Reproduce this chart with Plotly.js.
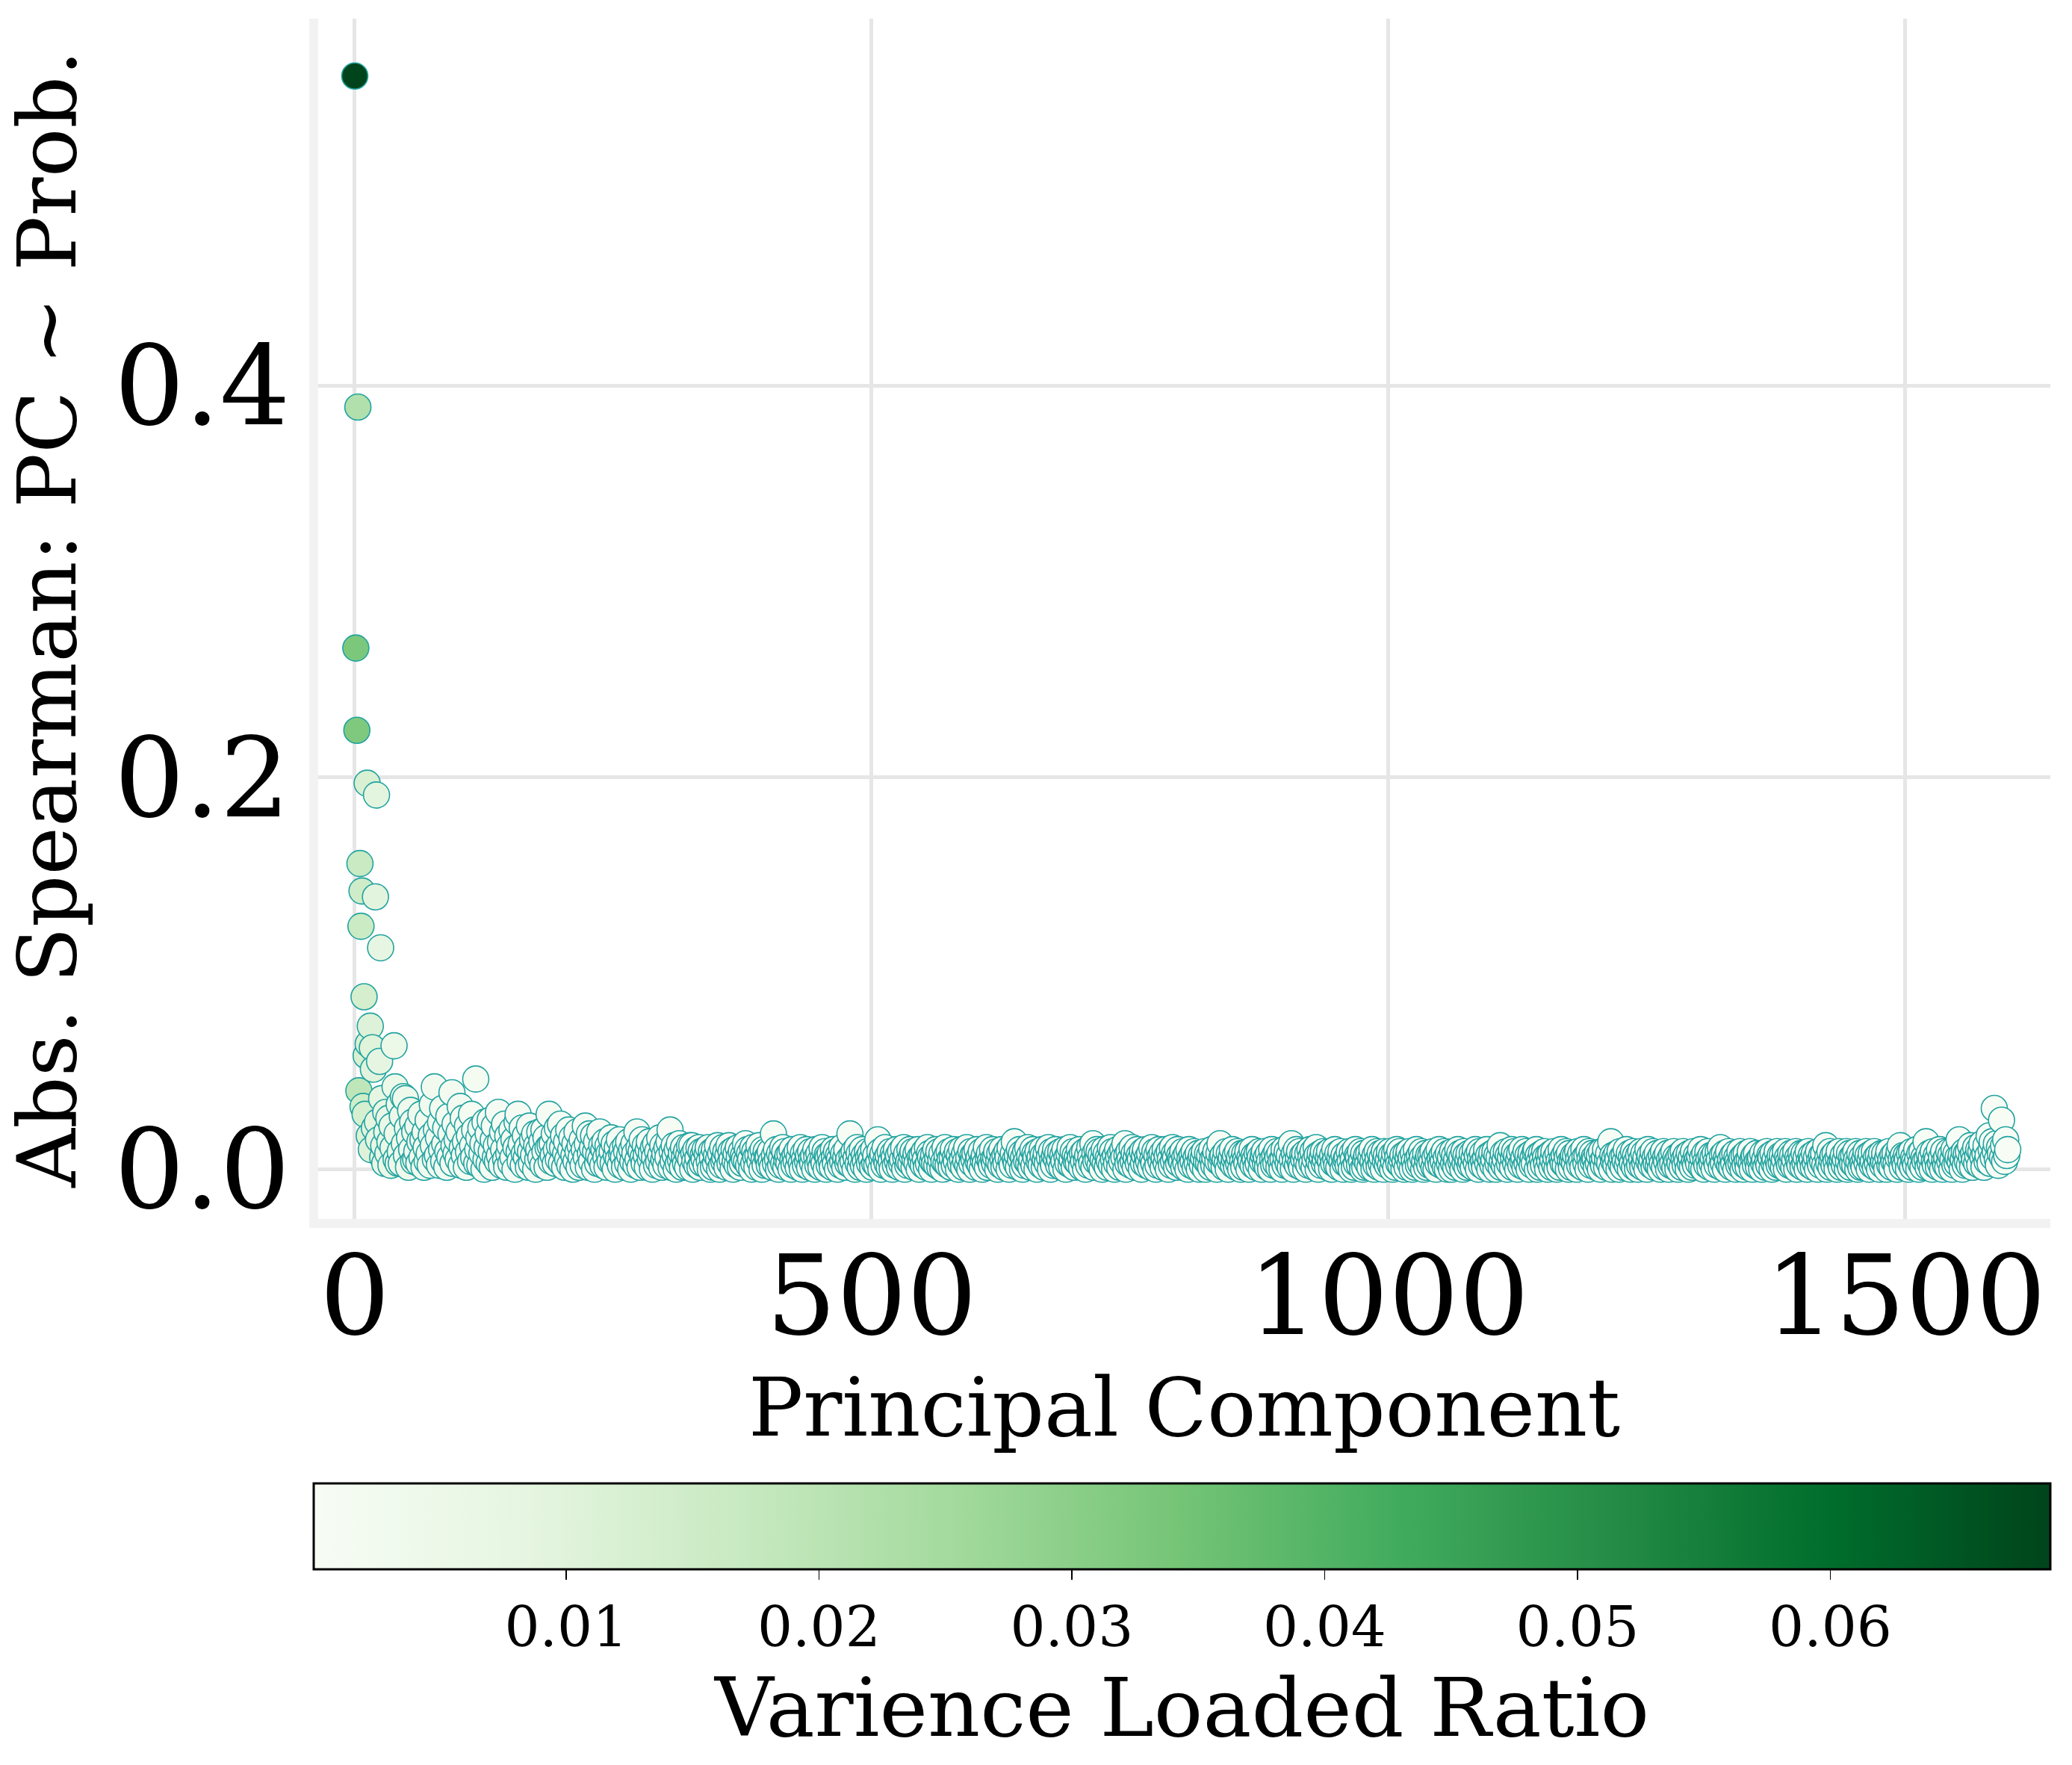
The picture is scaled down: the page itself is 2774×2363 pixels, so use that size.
<!DOCTYPE html>
<html>
<head>
<meta charset="utf-8">
<script src="https://cdn.plot.ly/plotly-3.0.1.min.js"></script>
<style>html,body{margin:0;padding:0;background:#fff;}#chart{width:2774px;height:2363px;}</style>
</head>
<body>
<div id="chart"></div>
<script>
// ---- Data: |Spearman| between each principal component and the probability (units of 0.001) ----
const spearmanPC0to59 = [558,266,224,389,40,156,124,142,32,88,28,58,197,64,17,73,10,62,51,21,
139,191,24,15,55,113,36,6,12,3,29,19,8,26,14,2,22,11,63,42,
5,18,3,33,9,3,27,37,13,36,7,21,1,16,30,10,24,4,19,5];
const spearmanPC60to399 = [
9,22,3,14,28,6,15,1,19,11,4,25,8,2,17,33,12,42,5,20,
7,16,2,24,10,31,4,13,21,1,9,27,6,18,39,3,12,23,8,15,
5,19,32,2,11,26,7,14,1,22,9,17,4,28,12,6,20,46,3,10,
16,2,21,8,13,0,24,5,11,18,3,25,9,1,15,22,6,12,4,29,
7,14,2,19,10,23,5,1,17,8,12,3,20,6,15,0,11,24,28,9,
4,13,21,2,8,17,6,11,1,22,9,3,15,7,18,0,12,5,10,19,
6,14,2,20,9,16,1,11,28,12,4,13,7,18,3,10,21,5,12,23,
3,11,17,1,8,14,5,20,2,10,16,0,7,13,4,19,9,1,12,6,
15,2,10,22,6,13,1,18,8,4,11,17,0,9,14,3,7,19,5,12,
2,10,14,6,1,12,8,4,16,9,3,13,0,7,11,5,15,2,8,10,
6,1,12,9,3,14,7,0,10,4,13,8,2,19,5,11,1,9,15,6,
3,12,7,1,10,14,5,8,0,11,6,13,2,9,4,16,7,1,12,5,
8,2,11,6,14,20,1,9,4,12,7,0,10,3,13,5,8,1,11,6,
3,9,1,7,12,5,12,0,8,4,10,2,6,11,1,9,3,7,5,10,
2,8,11,4,0,9,6,1,10,3,7,12,5,0,8,2,11,4,6,9,
1,7,12,3,9,5,0,10,4,8,2,11,6,1,9,3,7,5,13,4,
10,2,8,5,0,11,3,9,6,1,7,12,4,8,0,10,5,2,9,6];
const spearmanPC400to799 = [
6,2,9,4,1,18,7,3,10,5,0,8,2,6,11,3,9,1,5,7,
3,8,0,10,5,2,7,4,9,1,6,11,3,0,8,5,2,10,4,7,
1,9,5,3,7,0,10,6,2,8,4,1,11,5,3,9,0,7,6,2,
8,4,1,10,6,3,9,0,7,5,2,11,4,8,1,6,10,3,5,18,
2,7,4,9,0,6,11,3,8,1,5,10,2,7,4,0,9,6,3,8,
5,1,10,3,7,2,15,4,9,0,6,8,2,11,5,3,7,1,9,4,
0,8,6,2,10,4,7,1,9,3,5,11,0,6,8,2,4,10,3,7,
9,1,5,8,3,10,0,6,4,7,2,9,5,1,11,3,8,6,0,4,
7,3,10,2,6,9,1,5,8,0,4,11,3,7,2,9,5,1,6,10,
2,6,4,9,0,7,3,10,5,1,8,4,11,2,6,0,9,3,7,5,
8,1,10,4,6,2,9,0,5,7,3,11,1,6,8,4,2,10,5,3,
6,9,0,4,8,2,10,5,1,7,3,9,6,0,11,4,2,8,14,5,
3,7,1,10,5,8,0,6,2,9,4,11,3,7,1,5,10,2,8,6,
0,9,4,6,2,10,7,1,5,8,3,11,6,0,9,4,2,7,10,5,
8,2,5,9,1,7,4,10,0,6,3,8,11,2,5,9,1,7,4,6,
3,10,6,1,8,4,9,0,5,7,2,11,6,3,13,1,8,4,10,5,
9,2,7,0,5,10,3,8,1,6,4,11,2,9,5,0,7,3,10,6,
1,8,4,10,6,13,0,7,3,9,5,2,11,4,8,1,6,10,3,7,
5,0,9,3,7,10,2,6,4,8,1,11,5,3,9,0,7,2,10,6,
4,8,1,6,10,3,7,0,9,5,2,11,4,8,6,1,10,3,7,5];
const spearmanPC800to1199 = [
4,9,1,6,3,8,0,10,5,2,7,4,9,1,6,3,8,0,5,7,
2,6,9,0,4,8,3,7,1,10,5,2,6,9,0,4,8,13,3,6,
7,1,5,9,3,0,8,4,6,10,2,5,7,1,9,3,6,0,8,4,
1,8,5,3,9,0,6,4,10,2,7,5,1,8,3,9,6,0,4,7,
9,3,6,1,8,4,0,10,5,2,7,3,9,6,1,8,4,0,5,10,
2,6,9,3,7,1,13,5,0,8,4,10,2,6,9,3,1,7,5,8,
0,4,8,2,10,6,3,9,1,5,11,7,0,4,8,2,6,9,3,5,
8,1,6,9,4,0,7,3,10,5,2,8,1,6,9,4,0,7,3,5,
6,2,9,4,0,8,5,1,10,3,7,6,2,9,4,0,8,1,5,7,
3,8,1,6,10,4,0,7,2,9,5,1,8,3,6,0,9,4,7,2,
5,9,2,7,0,4,8,1,10,6,3,9,2,5,7,0,4,8,1,6,
9,3,6,0,8,4,1,10,5,2,7,3,9,6,0,4,8,1,5,7,
2,7,4,9,1,6,0,8,3,10,5,2,7,4,9,1,6,0,8,3,
6,0,9,3,7,1,5,10,2,8,4,6,0,9,3,7,1,5,8,2,
4,8,1,6,10,3,7,0,9,5,2,8,4,1,6,10,3,7,0,5,
8,2,5,9,0,7,3,6,12,1,4,8,2,5,9,0,7,3,6,10,
1,6,9,3,7,0,5,8,2,10,4,6,1,9,3,7,0,5,8,2,
6,3,9,10,0,7,4,1,8,5,2,9,6,3,0,7,4,8,1,5,
9,2,6,0,8,4,1,10,5,3,7,2,9,6,0,8,4,1,5,7,
3,7,0,9,5,2,8,4,1,10,6,3,7,0,9,5,2,8,4,6];
const spearmanPC1200to1599 = [
5,1,8,3,7,0,9,4,2,6,10,1,5,8,3,14,0,7,4,6,
2,8,5,0,9,3,6,1,7,4,10,2,5,8,0,6,3,9,1,7,
4,0,7,2,9,5,1,8,3,6,0,10,4,7,2,5,9,1,6,3,
8,2,5,0,7,3,9,1,6,4,8,0,5,2,7,3,9,1,6,4,
0,6,3,8,1,9,5,2,7,4,0,8,3,6,1,9,4,2,7,5,
3,7,10,1,6,0,8,4,2,9,5,1,7,3,6,0,8,4,2,9,
5,11,1,7,3,8,0,6,4,9,2,5,1,7,3,8,0,6,4,2,
9,3,6,0,7,2,8,4,1,5,9,3,0,6,7,2,8,4,1,5,
6,0,8,3,5,1,9,4,2,7,6,0,8,3,5,1,9,4,2,7,
3,7,1,5,9,0,6,4,2,8,3,7,1,5,9,0,6,4,2,8,
5,1,8,3,6,0,9,4,2,7,5,1,8,3,6,0,9,4,2,7,
4,8,2,12,0,6,3,9,1,5,7,2,8,4,0,6,9,3,1,5,
7,2,5,9,0,4,8,1,6,3,7,2,9,5,0,4,8,1,6,3,
1,6,9,3,7,0,5,8,2,4,9,1,6,3,7,0,5,8,2,4,
8,3,0,6,9,2,5,1,7,4,8,3,0,6,9,12,5,1,7,4,
2,7,5,0,8,3,9,1,6,4,2,10,5,0,8,3,9,1,6,4,
14,5,1,8,3,6,0,9,4,2,7,5,1,10,3,6,0,9,4,2,
6,1,9,4,7,0,5,10,2,8,3,6,15,4,7,0,5,9,2,8,
4,9,2,12,6,1,8,5,11,3,7,10,2,9,13,6,1,8,12,4,
7,17,3,10,14,6,31,9,13,5,2,11,8,25,6,12,4,15,7,10];

// ---- Data: variance ratio explained by each principal component (units of 0.00001) ----
const variancePC0to59 = [6870,3300,3220,2190,1900,1650,1600,1500,1450,1350,1300,1250,1200,1150,1120,1080,1040,1000,970,940,
910,880,850,820,800,780,760,740,720,700,680,660,640,620,600,585,570,555,540,525,
510,498,486,475,464,454,444,435,426,418,410,402,395,388,381,375,369,363,358,353];
const variancePC60to399 = [
340,334,328,322,317,312,307,302,297,292,287,283,279,275,271,267,263,259,255,251,
247,243,240,237,234,231,228,225,222,219,216,213,210,207,205,203,201,199,197,195,
192,189,186,183,180,177,174,171,168,166,164,162,160,158,156,154,152,150,148,146,
144,142,140,138,136,134,132,130,128,127,126,125,124,123,122,121,120,119,118,117,
116,115,114,113,112,111,110,109,108,107,106,105,104,103,102,101,100,99,98,97,
96,95,94,93,92,91,90,89,88,87,86,85,84,83,82,81,80,79,78,77,
76,75,74,73,72,71,70,70,69,69,68,68,67,67,66,66,65,65,64,64,
63,63,62,62,61,61,60,60,59,59,58,58,57,57,56,56,55,55,54,54,
53,53,52,52,52,51,51,51,50,50,50,49,49,49,48,48,48,47,47,47,
46,46,46,45,45,45,44,44,44,43,43,43,42,42,42,41,41,41,40,40,
40,40,39,39,39,39,38,38,38,38,37,37,37,37,36,36,36,36,35,35,
35,35,35,34,34,34,34,33,33,33,33,32,32,32,32,31,31,31,31,30,
30,30,30,30,29,29,29,29,29,28,28,28,28,28,27,27,27,27,27,26,
26,26,26,26,26,25,25,25,25,25,25,24,24,24,24,24,24,23,23,23,
23,23,23,22,22,22,22,22,22,21,21,21,21,21,21,21,20,20,20,20,
20,20,20,19,19,19,19,19,19,19,18,18,18,18,18,18,18,17,17,17,
17,17,17,17,16,16,16,16,16,16,16,16,15,15,15,15,15,15,15,15];
const variancePC400to799 = [
15,15,15,15,15,15,15,14,14,14,14,14,14,14,14,14,14,14,14,14,
14,14,14,14,14,13,13,13,13,13,13,13,13,13,13,13,13,13,13,13,
13,13,13,13,13,13,13,13,12,12,12,12,12,12,12,12,12,12,12,12,
12,12,12,12,12,12,12,12,12,12,11,11,11,11,11,11,11,11,11,11,
11,11,11,11,11,11,11,11,11,11,11,11,10,10,10,10,10,10,10,10,
10,10,10,10,10,10,10,10,10,10,10,10,10,10,10,10,10,10,10,10,
10,10,10,10,10,10,10,10,10,10,10,10,10,10,10,10,10,10,10,10,
10,10,10,10,10,10,10,10,10,10,9,9,9,9,9,9,9,9,9,9,
9,9,9,9,9,9,9,9,9,9,9,9,9,9,9,9,9,9,9,9,
9,9,9,9,9,9,9,9,9,9,9,9,9,9,9,9,9,9,9,9,
9,9,9,9,9,9,9,9,9,9,9,9,9,9,9,9,9,9,9,9,
9,9,9,9,9,9,9,9,9,9,8,8,8,8,8,8,8,8,8,8,
8,8,8,8,8,8,8,8,8,8,8,8,8,8,8,8,8,8,8,8,
8,8,8,8,8,8,8,8,8,8,8,8,8,8,8,8,8,8,8,8,
8,8,8,8,8,8,8,8,8,8,8,8,8,8,8,8,8,8,8,8,
8,8,8,8,8,8,8,8,8,8,8,8,8,8,8,8,8,8,8,8,
7,7,7,7,7,7,7,7,7,7,7,7,7,7,7,7,7,7,7,7,
7,7,7,7,7,7,7,7,7,7,7,7,7,7,7,7,7,7,7,7,
7,7,7,7,7,7,7,7,7,7,7,7,7,7,7,7,7,7,7,7,
7,7,7,7,7,7,7,7,7,7,7,7,7,7,7,7,7,7,7,7];
const variancePC800to1199 = [
7,7,7,7,7,7,7,7,7,7,7,7,7,7,7,7,7,7,7,7,
7,7,7,7,7,7,7,7,7,7,7,7,7,7,7,7,7,7,7,7,
7,7,7,7,7,7,7,7,7,7,6,6,6,6,6,6,6,6,6,6,
6,6,6,6,6,6,6,6,6,6,6,6,6,6,6,6,6,6,6,6,
6,6,6,6,6,6,6,6,6,6,6,6,6,6,6,6,6,6,6,6,
6,6,6,6,6,6,6,6,6,6,6,6,6,6,6,6,6,6,6,6,
6,6,6,6,6,6,6,6,6,6,6,6,6,6,6,6,6,6,6,6,
6,6,6,6,6,6,6,6,6,6,6,6,6,6,6,6,6,6,6,6,
6,6,6,6,6,6,6,6,6,6,6,6,6,6,6,6,6,6,6,6,
6,6,6,6,6,6,6,6,6,6,6,6,6,6,6,6,6,6,6,6,
5,5,5,5,5,5,5,5,5,5,5,5,5,5,5,5,5,5,5,5,
5,5,5,5,5,5,5,5,5,5,5,5,5,5,5,5,5,5,5,5,
5,5,5,5,5,5,5,5,5,5,5,5,5,5,5,5,5,5,5,5,
5,5,5,5,5,5,5,5,5,5,5,5,5,5,5,5,5,5,5,5,
5,5,5,5,5,5,5,5,5,5,5,5,5,5,5,5,5,5,5,5,
5,5,5,5,5,5,5,5,5,5,5,5,5,5,5,5,5,5,5,5,
5,5,5,5,5,5,5,5,5,5,5,5,5,5,5,5,5,5,5,5,
4,4,4,4,4,4,4,4,4,4,4,4,4,4,4,4,4,4,4,4,
4,4,4,4,4,4,4,4,4,4,4,4,4,4,4,4,4,4,4,4,
4,4,4,4,4,4,4,4,4,4,4,4,4,4,4,4,4,4,4,4];
const variancePC1200to1599 = [
4,4,4,4,4,4,4,4,4,4,4,4,4,4,4,4,4,4,4,4,
4,4,4,4,4,4,4,4,4,4,4,4,4,4,4,4,4,4,4,4,
4,4,4,4,4,4,4,4,4,4,4,4,4,4,4,4,4,4,4,4,
4,4,4,4,4,4,4,4,4,4,4,4,4,4,4,4,4,4,4,4,
4,4,4,4,4,4,4,4,4,4,4,4,4,4,4,4,4,4,4,4,
4,4,4,4,4,4,4,4,4,4,4,4,4,4,4,4,4,4,4,4,
3,3,3,3,3,3,3,3,3,3,3,3,3,3,3,3,3,3,3,3,
3,3,3,3,3,3,3,3,3,3,3,3,3,3,3,3,3,3,3,3,
3,3,3,3,3,3,3,3,3,3,3,3,3,3,3,3,3,3,3,3,
3,3,3,3,3,3,3,3,3,3,3,3,3,3,3,3,3,3,3,3,
3,3,3,3,3,3,3,3,3,3,3,3,3,3,3,3,3,3,3,3,
3,3,3,3,3,3,3,3,3,3,3,3,3,3,3,3,3,3,3,3,
3,3,3,3,3,3,3,3,3,3,3,3,3,3,3,3,3,3,3,3,
3,3,3,3,3,3,3,3,3,3,3,3,3,3,3,3,3,3,3,3,
3,3,3,3,3,3,3,3,3,3,3,3,3,3,3,3,3,3,3,3,
3,3,3,3,3,3,3,3,3,3,3,3,3,3,3,3,3,3,3,3,
3,3,3,3,3,3,3,3,3,3,3,3,3,3,3,3,3,3,3,3,
3,3,3,3,3,3,3,3,3,3,3,3,3,3,3,3,3,3,3,3,
3,3,3,3,3,3,3,3,3,3,3,3,3,3,3,3,3,3,3,3,
3,3,3,3,3,3,3,3,3,3,2,2,2,2,2,2,2,2,2,2];

// ---- Tick labels and titles ----
const xTickValues = [0, 500, 1000, 1500];
const xTickLabels = ['0', '500', '1000', '1500'];
const yTickValues = [0, 0.2, 0.4];
const yTickLabels = ['0.0', '0.2', '0.4'];
const colorbarTickValues = [0.01, 0.02, 0.03, 0.04, 0.05, 0.06];
const colorbarTickLabels = ['0.01', '0.02', '0.03', '0.04', '0.05', '0.06'];
const xTitle = 'Principal Component';
const yTitle = 'Abs. Spearman: PC ~ Prob.';
const colorbarTitle = 'Varience Loaded Ratio';

// ---- Assemble ----
const absSpearman = [].concat(spearmanPC0to59, spearmanPC60to399, spearmanPC400to799,
  spearmanPC800to1199, spearmanPC1200to1599).map(v => v / 1000);
const varianceRatio = [].concat(variancePC0to59, variancePC60to399, variancePC400to799,
  variancePC800to1199, variancePC1200to1599).map(v => v / 100000);
const pcIndex = absSpearman.map((_, i) => i);

const greens = [[0,'#f7fcf5'],[0.125,'#e5f5e0'],[0.25,'#c7e9c0'],[0.375,'#a1d99b'],[0.5,'#74c476'],
  [0.625,'#41ab5d'],[0.75,'#238b45'],[0.875,'#006d2c'],[1,'#00441b']];

const FONT = 'DejaVu Serif, Liberation Serif, serif';

const trace = {
  type: 'scatter', mode: 'markers',
  x: pcIndex, y: absSpearman,
  hoverinfo: 'skip',
  marker: {
    size: 35,
    color: varianceRatio,
    colorscale: greens,
    line: {color: '#22a3a0', width: 1.6},
    showscale: true,
    colorbar: {
      orientation: 'h',
      x: 0.4987, xanchor: 'center',
      y: -0.2204, yanchor: 'top',
      len: 2325, lenmode: 'pixels',
      thickness: 115, thicknessmode: 'pixels',
      xpad: 0, ypad: 0,
      outlinecolor: '#000', outlinewidth: 3,
      ticks: 'outside', ticklen: 13, tickwidth: 1.5, tickcolor: '#000',
      tickvals: colorbarTickValues, ticktext: colorbarTickLabels,
      tickfont: {family: FONT, size: 74, color: '#000'},
      title: {text: colorbarTitle, side: 'bottom', font: {family: FONT, size: 109, color: '#000'}}
    }
  }
};

const layout = {
  width: 2774, height: 2363,
  margin: {l: 426, r: 29, t: 25, b: 723},
  paper_bgcolor: '#ffffff', plot_bgcolor: '#ffffff',
  font: {family: FONT, color: '#000'},
  showlegend: false,
  xaxis: {
    range: [-35.4, 1640.2],
    tickvals: xTickValues, ticktext: xTickLabels,
    tickfont: {family: FONT, size: 148, color: '#000'},
    ticklabelstandoff: -36,
    showgrid: true, gridcolor: '#e6e6e6', gridwidth: 5,
    zeroline: false, showline: true, linecolor: '#f2f2f2', linewidth: 12,
    ticks: '',
    title: {text: xTitle, font: {family: FONT, size: 109, color: '#000'}, standoff: 30}
  },
  yaxis: {
    range: [-0.02542, 0.58725],
    tickvals: yTickValues, ticktext: yTickLabels,
    tickfont: {family: FONT, size: 148, color: '#000'},
    ticklabelstandoff: -4,
    showgrid: true, gridcolor: '#e6e6e6', gridwidth: 5,
    zeroline: false, showline: true, linecolor: '#f2f2f2', linewidth: 12,
    ticks: '',
    title: {text: yTitle, font: {family: FONT, size: 109, color: '#000'}, standoff: 30}
  }
};

if (absSpearman.length !== 1600 || varianceRatio.length !== 1600) {
  layout.annotations = [{text: 'LEN ' + absSpearman.length + ' / ' + varianceRatio.length, xref: 'paper', yref: 'paper', x: 0.5, y: 0.5, showarrow: false, font: {size: 120, color: 'red'}}];
}

Plotly.newPlot('chart', [trace], layout, {staticPlot: true, displayModeBar: false});
</script>
</body>
</html>
